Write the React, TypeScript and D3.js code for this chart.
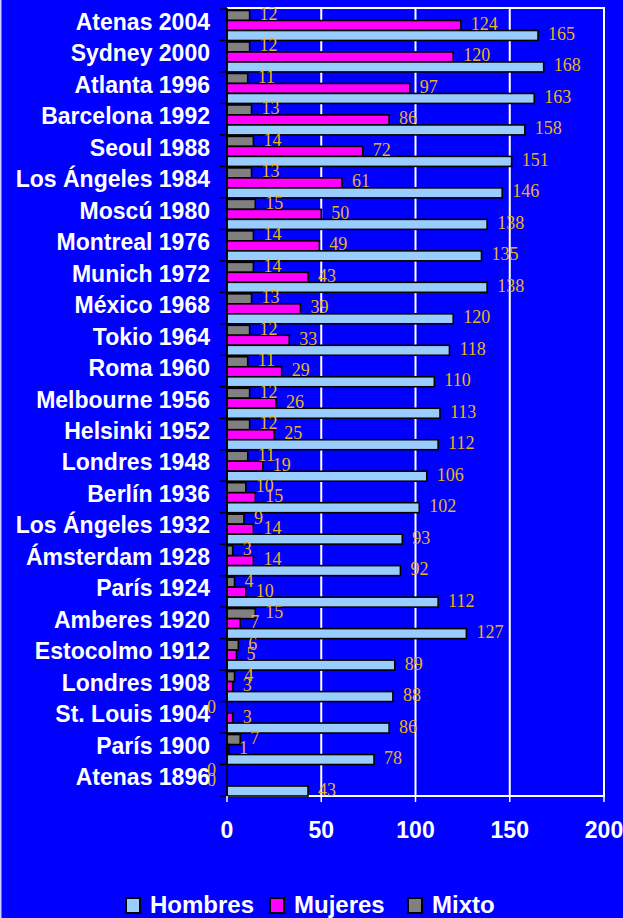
import * as d3 from 'd3';
import React, { useEffect, useRef } from 'react';

// juegos olímpicos (de arriba abajo)
const juegos = [
  'Atenas 2004', 'Sydney 2000', 'Atlanta 1996', 'Barcelona 1992', 'Seoul 1988',
  'Los Ángeles 1984', 'Moscú 1980', 'Montreal 1976', 'Munich 1972', 'México 1968',
  'Tokio 1964', 'Roma 1960', 'Melbourne 1956', 'Helsinki 1952', 'Londres 1948',
  'Berlín 1936', 'Los Ángeles 1932', 'Ámsterdam 1928', 'París 1924', 'Amberes 1920',
  'Estocolmo 1912', 'Londres 1908', 'St. Louis 1904', 'París 1900', 'Atenas 1896',
];

const hombres = [165, 168, 163, 158, 151, 146, 138, 135, 138, 120, 118, 110, 113, 112, 106, 102, 93, 92, 112, 127, 89, 88, 86, 78, 43];
const mujeres = [124, 120, 97, 86, 72, 61, 50, 49, 43, 39, 33, 29, 26, 25, 19, 15, 14, 14, 10, 7, 5, 3, 3, 1, 0];
const mixto = [12, 12, 11, 13, 14, 13, 15, 14, 14, 13, 12, 11, 12, 12, 11, 10, 9, 3, 4, 15, 6, 4, 0, 7, 0];

const xTicks = [0, 50, 100, 150, 200];

const series = [
  { key: 'Mixto', values: mixto, color: '#808080' },
  { key: 'Mujeres', values: mujeres, color: '#ff00ff' },
  { key: 'Hombres', values: hombres, color: '#99ccff' },
];
const legendOrder = ['Hombres', 'Mujeres', 'Mixto'];

const W = 623;
const H = 918;

export default function App() {
  const ref = useRef<SVGSVGElement>(null);

  useEffect(() => {
    const svg = d3.select(ref.current);
    svg.selectAll('*').remove();

    const plot = { left: 227, right: 604, top: 8, bottom: 796 };

    svg.append('rect').attr('width', W).attr('height', H).attr('fill', '#0000ff');
    svg.append('rect').attr('x', 0).attr('width', 1.5).attr('height', H).attr('fill', '#d0d0ff');

    const x = d3.scaleLinear().domain([0, 200]).range([plot.left, plot.right]);
    const y = d3.scaleBand().domain(juegos).range([plot.top + 1, plot.bottom]);
    const bw = y.bandwidth();
    const sub = d3.scaleBand().domain(series.map(s => s.key)).range([1.5, bw]);

    // grid lines
    svg.append('g')
      .selectAll('line')
      .data(xTicks.slice(1, -1))
      .enter()
      .append('line')
      .attr('x1', d => x(d)).attr('x2', d => x(d))
      .attr('y1', plot.top).attr('y2', plot.bottom)
      .attr('stroke', '#fff').attr('stroke-width', 2);

    // plot border (top, right, bottom)
    svg.append('path')
      .attr('d', `M${plot.left},${plot.top}H${plot.right}V${plot.bottom}H${plot.left}`)
      .attr('fill', 'none').attr('stroke', '#fff').attr('stroke-width', 2);

    // bars
    for (const s of series) {
      svg.append('g')
        .selectAll('rect')
        .data(s.values)
        .enter()
        .append('rect')
        .attr('x', x(0))
        .attr('y', (d, i) => (y(juegos[i]) as number) + (sub(s.key) as number))
        .attr('width', d => x(d) - x(0))
        .attr('height', sub.bandwidth())
        .attr('fill', s.color)
        .attr('stroke', d => (d > 0 ? '#000' : 'none'))
        .attr('stroke-width', 1.6);
    }

    // value labels
    for (const s of series) {
      svg.append('g')
        .selectAll('text')
        .data(s.values)
        .enter()
        .append('text')
        .attr('x', d => (d > 0 ? x(d) + 10 : x(0) - 11))
        .attr('y', (d, i) => (y(juegos[i]) as number) + (sub(s.key) as number) + sub.bandwidth() / 2 + 4.5)
        .attr('text-anchor', d => (d > 0 ? 'start' : 'end'))
        .attr('font-family', '"Liberation Serif", serif')
        .attr('font-size', 18)
        .attr('fill', '#e9b41e')
        .text(d => d);
    }

    // left axis
    const yBounds = juegos.map(j => y(j) as number).concat([plot.bottom]);
    svg.append('line')
      .attr('x1', plot.left).attr('x2', plot.left)
      .attr('y1', plot.top).attr('y2', plot.bottom)
      .attr('stroke', '#000').attr('stroke-width', 1.5);
    svg.append('g')
      .selectAll('line')
      .data(yBounds)
      .enter()
      .append('line')
      .attr('x1', plot.left - 7).attr('x2', plot.left)
      .attr('y1', d => d).attr('y2', d => d)
      .attr('stroke', '#000').attr('stroke-width', 1.5);
    svg.append('g')
      .selectAll('text')
      .data(juegos)
      .enter()
      .append('text')
      .attr('x', 210)
      .attr('y', d => (y(d) as number) + bw / 2 + 5)
      .attr('text-anchor', 'end')
      .attr('font-family', '"Liberation Sans", Arial, sans-serif')
      .attr('font-weight', 'bold')
      .attr('font-size', 23)
      .attr('fill', '#fff')
      .text(d => d);

    // bottom axis
    svg.append('g')
      .selectAll('line')
      .data(xTicks)
      .enter()
      .append('line')
      .attr('x1', d => x(d)).attr('x2', d => x(d))
      .attr('y1', plot.bottom).attr('y2', plot.bottom + 6)
      .attr('stroke', '#fff').attr('stroke-width', 1.5);
    svg.append('g')
      .selectAll('text')
      .data(xTicks)
      .enter()
      .append('text')
      .attr('x', d => x(d))
      .attr('y', 838)
      .attr('text-anchor', 'middle')
      .attr('font-family', '"Liberation Sans", Arial, sans-serif')
      .attr('font-weight', 'bold')
      .attr('font-size', 23)
      .attr('fill', '#fff')
      .text(d => d);

    // legend
    const legendX = [126, 270, 408];
    const legend = svg.append('g')
      .selectAll('g')
      .data(legendOrder)
      .enter()
      .append('g')
      .attr('transform', (d, i) => `translate(${legendX[i]}, 898)`);
    legend.append('rect')
      .attr('width', 14).attr('height', 15)
      .attr('fill', d => series.find(s => s.key === d)!.color)
      .attr('stroke', '#000').attr('stroke-width', 2);
    legend.append('text')
      .attr('x', 24).attr('y', 15)
      .attr('font-family', '"Liberation Sans", Arial, sans-serif')
      .attr('font-weight', 'bold')
      .attr('font-size', 24)
      .attr('fill', '#fff')
      .text(d => d);
  }, []);

  return (
    <svg ref={ref} width={W} height={H} style={{ position: 'absolute', left: 0, top: 0 }} />
  );
}
